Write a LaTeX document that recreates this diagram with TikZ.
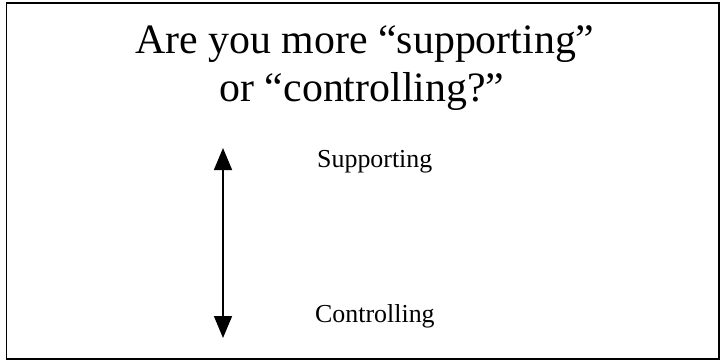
\documentclass[tikz,border=0pt]{standalone}
\usepackage{fontspec}
\setmainfont{Liberation Serif}
\usetikzlibrary{arrows.meta}
\tikzset{
  frame/.style={draw=black, line width=1.6bp},
  titletext/.style={font=\fontsize{42}{48}\selectfont, align=center, inner sep=0pt},
  labeltext/.style={font=\fontsize{26}{31}\selectfont, anchor=base west, inner sep=0pt},
  scalearrow/.style={line width=1.6bp, {Triangle[width=18bp,length=22bp]}-{Triangle[width=18bp,length=22bp]}}
}
\begin{document}
\begin{tikzpicture}[x=1bp,y=-1bp]
\useasboundingbox (0,0) rectangle (720,360);
\draw[frame] (6.5,2.8) rectangle (719,359);
\node[titletext, anchor=base] (title1) at (365,53) {Are you more “supporting”};
\node[titletext, anchor=base] (title2) at (362,101) {or “controlling?”};
\coordinate (top) at (223,148);
\coordinate (bottom) at (223,338);
\draw[scalearrow] (top) -- (bottom);
\node[labeltext] (sup) at (317,167) {Supporting};
\node[labeltext] (con) at (315,322) {Controlling};
\end{tikzpicture}
\end{document}
